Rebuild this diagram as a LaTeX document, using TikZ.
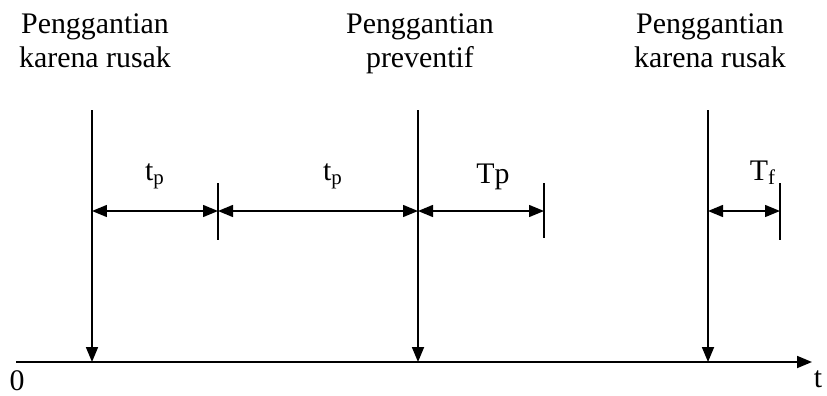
\documentclass[tikz,border=0pt]{standalone}
\usepackage{fontspec}
\setmainfont{Liberation Serif}
\usetikzlibrary{arrows.meta,positioning}

\begin{document}
\begin{tikzpicture}[
  x=0.02cm,y=-0.02cm,
  txt/.style={font=\fontsize{17}{19.4}\selectfont,inner sep=0pt},
  ttl/.style={txt,align=center,anchor=north},
  lbl/.style={txt,anchor=base},
  evt/.style={line width=1pt,-{Triangle[length=0.3cm,width=0.24cm]}},
  durasi/.style={line width=0.8pt,{Triangle[length=0.3cm,width=0.24cm]}-{Triangle[length=0.3cm,width=0.24cm]}},
  endmark/.style={line width=0.8pt}
]
  \useasboundingbox (0,0) rectangle (827,395);
  % Time axis
  \coordinate (o) at (16,362);
  \coordinate (tx) at (812,362);
  \draw[line width=1pt,-{Triangle[length=0.3cm,width=0.24cm]}] (o) -- (tx);
  \node[txt] (nol) at (17,381) {0};
  \node[txt] (tvar) at (818,379) {t};
  % Titles
  \node[ttl] (judul1) at (95,13) {Penggantian\\karena rusak};
  \node[ttl] (judul2) at (420,13) {Penggantian\\preventif};
  \node[ttl] (judul3) at (710,13) {Penggantian\\karena rusak};
  % Replacement events
  \coordinate (e1) at (92,110);  \coordinate (a1) at (92,362);
  \coordinate (e2) at (418,110); \coordinate (a2) at (418,362);
  \coordinate (e3) at (708,110); \coordinate (a3) at (708,362);
  \draw[evt] (e1) -- (a1);
  \draw[evt] (e2) -- (a2);
  \draw[evt] (e3) -- (a3);
  % Intervals
  \coordinate (p1) at (92,211);  \coordinate (k1) at (218,211);
  \coordinate (p2) at (418,211); \coordinate (k2) at (544,211);
  \coordinate (p3) at (708,211); \coordinate (k3) at (780,211);
  \draw[endmark] (k1) ++(0,-28) -- ++(0,57);
  \draw[endmark] (k2) ++(0,-28) -- ++(0,55);
  \draw[endmark] (k3) ++(0,-28) -- ++(0,57);
  \draw[durasi] (p1) -- (k1);
  \draw[durasi] (k1) -- (p2);
  \draw[durasi] (p2) -- (k2);
  \draw[durasi] (p3) -- (k3);
  % Interval labels
  \node[lbl] (tp1) at (155,180) {t\textsubscript{p}};
  \node[lbl] (tp2) at (333,180) {t\textsubscript{p}};
  \node[lbl] (tp3) at (493,183) {Tp};
  \node[lbl] (tf1) at (763,180) {T\textsubscript{f}};
\end{tikzpicture}
\end{document}
